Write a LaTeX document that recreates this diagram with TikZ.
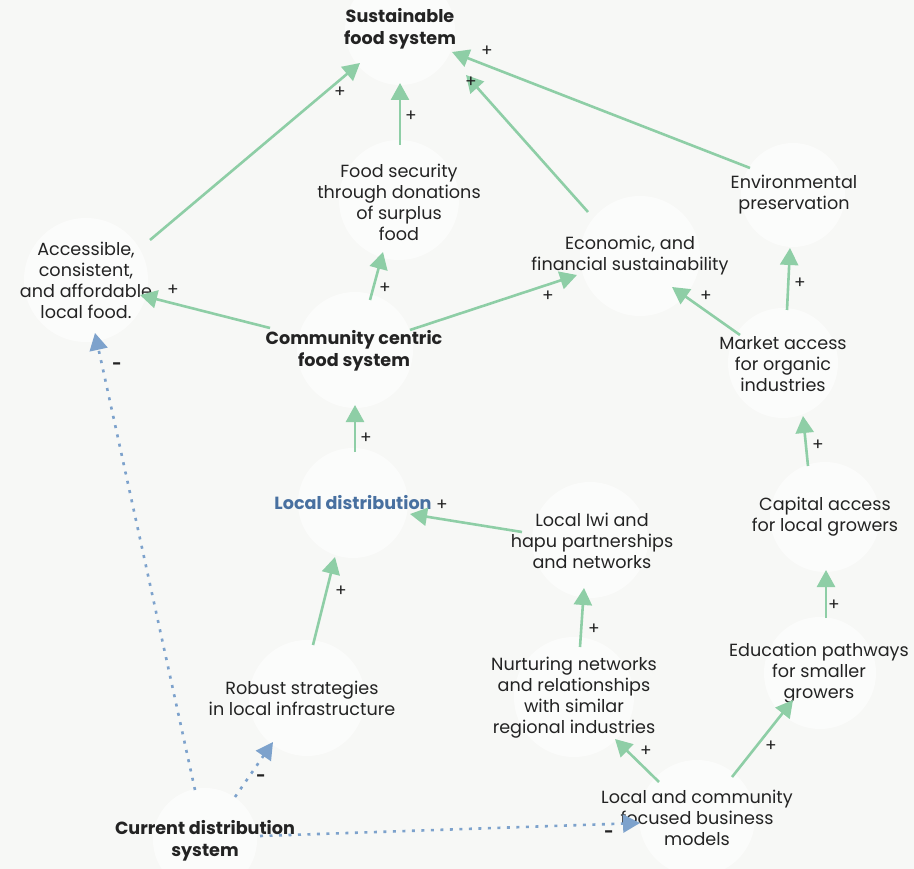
\documentclass[tikz,border=0pt]{standalone}
\usepackage{fontspec}
\setmainfont{Poppins}
\usetikzlibrary{arrows.meta}
\definecolor{bgcol}{RGB}{247,248,246}
\definecolor{poscol}{RGB}{142,206,166}
\definecolor{negcol}{RGB}{125,162,204}
\definecolor{txtcol}{RGB}{35,35,35}
\definecolor{keycol}{RGB}{72,112,160}
\tikzset{
  lbl/.style={align=center, text=txtcol, font=\fontsize{17.6}{21}\selectfont, inner sep=0pt},
  keylbl/.style={lbl, font=\fontsize{17.6}{22}\selectfont\bfseries},
  blob/.style={fill=white, fill opacity=0.6, draw=none},
  poslink/.style={draw=poscol, line width=2.6pt, -{Triangle[length=17pt,width=18pt]}},
  neglink/.style={draw=negcol, line width=2.6pt, dash pattern=on 3pt off 6.5pt, -{Triangle[length=17pt,width=18pt]}},
  sgn/.style={text=txtcol, font=\fontsize{17}{17}\selectfont, inner sep=0pt},
  negsgn/.style={sgn, font=\fontsize{16}{16}\selectfont\bfseries},
}
\begin{document}
\begin{tikzpicture}[x=1pt,y=-1pt]
\useasboundingbox (0,0) rectangle (914,869);
\fill[bgcol] (0,0) rectangle (914,869);

% soft white discs behind the variables
\foreach \cx/\cy/\r in {400/30/55, 399/200/60, 793/195/52, 86/280/62, 640/256/60,
  355/350/58, 783/363/55, 353/503/55, 825/517/55, 590/540/58, 307/698/58,
  574/697/60, 820/673/56, 205/840/52, 697/818/58}
  \fill[blob] (\cx,\cy) circle (\r);

% variables
\node[keylbl] (sfs) at (400,29) {Sustainable\\food system};
\node[lbl] (fsd) at (399,202) {Food security\\through donations\\of surplus\\food};
\node[lbl] (env) at (794,195) {Environmental\\preservation};
\node[lbl] (acc) at (86,280) {Accessible,\\consistent,\\and affordable\\local food.};
\node[lbl] (eco) at (630,256) {Economic, and\\financial sustainability};
\node[keylbl] (ccf) at (354,351) {Community centric\\food system};
\node[lbl] (mkt) at (783,364) {Market access\\for organic\\industries};
\node[keylbl, text=keycol] (ldi) at (353,503) {Local distribution};
\node[lbl] (cap) at (825,517) {Capital access\\for local growers};
\node[lbl] (iwi) at (592,541) {Local Iwi and\\hapu partnerships\\and networks};
\node[lbl] (rob) at (302,698) {Robust strategies\\in local infrastructure};
\node[lbl] (nur) at (574,698) {Nurturing networks\\and relationships\\with similar\\regional industries};
\node[lbl] (edu) at (819,673) {Education pathways\\for smaller\\growers};
\node[keylbl] (cds) at (205,841) {Current distribution\\system};
\node[lbl] (lcb) at (697,818) {Local and community\\focused business\\models};

% reinforcing links
\draw[poslink] ([shift={(64,-40)}]acc.center) -- ([shift={(-40,34)}]sfs.center);
\draw[poslink] ([shift={(1,-57)}]fsd.center) -- ([shift={(0,54)}]sfs.center);
\draw[poslink] ([shift={(-42,-44)}]eco.center) -- ([shift={(66,46)}]sfs.center);
\draw[poslink] ([shift={(-44,-27)}]env.center) -- ([shift={(52,23)}]sfs.center);
\draw[poslink] ([shift={(-84,-23)}]ccf.center) -- ([shift={(54,15)}]acc.center);
\draw[poslink] ([shift={(16,-51)}]ccf.center) -- ([shift={(-16,50)}]fsd.center);
\draw[poslink] ([shift={(56,-21)}]ccf.center) -- ([shift={(-53,19)}]eco.center);
\draw[poslink] ([shift={(-43,-29)}]mkt.center) -- ([shift={(42,31)}]eco.center);
\draw[poslink] ([shift={(4,-54)}]mkt.center) -- ([shift={(-4,53)}]env.center);
\draw[poslink] ([shift={(2,-51)}]ldi.center) -- ([shift={(1,54)}]ccf.center);
\draw[poslink] ([shift={(-17,-51)}]cap.center) -- ([shift={(20,52)}]mkt.center);
\draw[poslink] ([shift={(-70,-9)}]iwi.center) -- ([shift={(57,11)}]ldi.center);
\draw[poslink] ([shift={(11,-53)}]rob.center) -- ([shift={(-18,54)}]ldi.center);
\draw[poslink] ([shift={(6,-51)}]nur.center) -- ([shift={(-8,47)}]iwi.center);
\draw[poslink] ([shift={(7,-55)}]edu.center) -- ([shift={(1,53)}]cap.center);
\draw[poslink] ([shift={(-38,-36)}]lcb.center) -- ([shift={(41,41)}]nur.center);
\draw[poslink] ([shift={(35,-41)}]lcb.center) -- ([shift={(-26,27)}]edu.center);

% balancing links
\draw[neglink] ([shift={(-10,-51)}]cds.center) -- ([shift={(9,53)}]acc.center);
\draw[neglink] ([shift={(30,-44)}]cds.center) -- ([shift={(-29,44)}]rob.center);
\draw[neglink] ([shift={(55,-5)}]cds.center) -- ([shift={(-57,5)}]lcb.center);

% polarity marks
\node[sgn] (s01) at (340,92) {+};
\node[sgn] (s02) at (411,116) {+};
\node[sgn] (s03) at (471,82) {+};
\node[sgn] (s04) at (487,51) {+};
\node[sgn] (s05) at (173,290) {+};
\node[sgn] (s06) at (385,288) {+};
\node[sgn] (s07) at (548,296) {+};
\node[sgn] (s08) at (706,296) {+};
\node[sgn] (s09) at (800,283) {+};
\node[sgn] (s10) at (366,438) {+};
\node[sgn] (s11) at (818,445) {+};
\node[sgn] (s12) at (442,505) {+};
\node[sgn] (s13) at (341,591) {+};
\node[sgn] (s14) at (594,629) {+};
\node[sgn] (s15) at (834,605) {+};
\node[sgn] (s16) at (646,751) {+};
\node[sgn] (s17) at (771,746) {+};
\node[negsgn] (s18) at (117,366) {-};
\node[negsgn] (s19) at (261,778) {-};
\node[negsgn] (s20) at (609,834) {-};
\end{tikzpicture}
\end{document}
